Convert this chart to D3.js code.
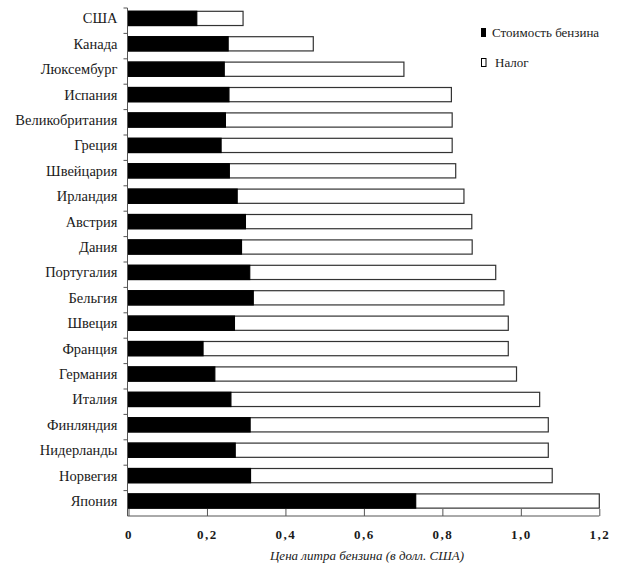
<!DOCTYPE html>
<html>
<head>
<meta charset="utf-8">
<script src="https://cdn.jsdelivr.net/npm/d3@7"></script>
</head>
<body style="margin:0">
<script>
// Страны сверху вниз
const countries = ["США", "Канада", "Люксембург", "Испания", "Великобритания", "Греция",
  "Швейцария", "Ирландия", "Австрия", "Дания", "Португалия", "Бельгия", "Швеция",
  "Франция", "Германия", "Италия", "Финляндия", "Нидерланды", "Норвегия", "Япония"];

// Стоимость бензина (долл. за литр)
const fuelCost = [0.174, 0.254, 0.244, 0.256, 0.247, 0.236, 0.257, 0.277, 0.298, 0.288,
  0.309, 0.318, 0.270, 0.190, 0.220, 0.261, 0.310, 0.272, 0.311, 0.732];

// Налог (долл. за литр)
const tax = [0.118, 0.217, 0.458, 0.567, 0.578, 0.589, 0.577, 0.578, 0.577, 0.588,
  0.627, 0.639, 0.698, 0.778, 0.769, 0.787, 0.760, 0.798, 0.769, 0.468];

const xTicks = [0, 0.2, 0.4, 0.6, 0.8, 1.0, 1.2];
const legendLabels = ["Стоимость бензина", "Налог"];

const W = 621, H = 571;
const margin = { top: 8, left: 128.5, right: 22, bottom: 55 };

// шрифт задаём и атрибутом, и стилем
function serif(sel, size) {
  return sel.attr("font-family", "Liberation Serif")
    .style("font-family", '"Liberation Serif"')
    .style("font-size", size + "px")
    .attr("fill", "#1a1a1a");
}

const svg = d3.select("body").append("svg")
  .attr("width", W).attr("height", H);

const x = d3.scaleLinear().domain([0, 1.2]).range([margin.left, 599.3]);
const y = d3.scaleBand().domain(countries).range([margin.top, 516]);
const bw = y.bandwidth();

const data = countries.map((c, i) => ({ c: c, cost: fuelCost[i], tax: tax[i] }));

// Налог — белая часть (рисуем полную длину)
svg.append("g").selectAll("rect").data(data).enter()
  .append("rect")
  .attr("x", x(0))
  .attr("y", d => y(d.c) + bw * 0.13)
  .attr("width", d => x(d.cost + d.tax) - x(0))
  .attr("height", bw * 0.56)
  .attr("fill", "#fff")
  .attr("stroke", "#333")
  .attr("stroke-width", 1.2);

// Стоимость бензина — чёрная часть
svg.append("g").selectAll("rect").data(data).enter()
  .append("rect")
  .attr("x", x(0))
  .attr("y", d => y(d.c) + bw * 0.13)
  .attr("width", d => x(d.cost) - x(0))
  .attr("height", bw * 0.56)
  .attr("fill", "#000")
  .attr("stroke", "#000")
  .attr("stroke-width", 1.2);

// Ось Y
const yAxis = svg.append("g");
yAxis.append("line")
  .attr("x1", x(0) - 1).attr("x2", x(0) - 1)
  .attr("y1", margin.top).attr("y2", 516)
  .attr("stroke", "#555").attr("stroke-width", 1);
yAxis.selectAll("line.tick").data(countries).enter()
  .append("line")
  .attr("x1", x(0) - 5).attr("x2", x(0) - 1)
  .attr("y1", d => y(d)).attr("y2", d => y(d))
  .attr("stroke", "#555");
yAxis.selectAll("text").data(countries).enter()
  .append("text")
  .attr("x", 117.5)
  .attr("y", d => y(d) + bw * 0.41 + 5)
  .attr("text-anchor", "end")
  .call(serif, 14.5)
  .text(d => d);

// Ось X
const xAxis = d3.axisBottom(x)
  .tickValues(xTicks)
  .tickSize(-7)
  .tickPadding(14)
  .tickFormat(d => d === 0 ? "0" : d3.format(".1f")(d).replace(".", ","));

const gx = svg.append("g")
  .attr("transform", "translate(0,516)")
  .call(xAxis)
  .attr("font-family", "Liberation Serif");
gx.select(".domain").attr("stroke", "#555").attr("d", `M${x(0) - 1},0H${x(1.2)}`);
gx.selectAll(".tick line").attr("stroke", "#555");
gx.selectAll(".tick text")
  .call(serif, 13)
  .style("font-weight", "bold")
  .style("letter-spacing", "1.5px");

svg.append("text")
  .attr("x", 367)
  .attr("y", 560)
  .attr("text-anchor", "middle")
  .call(serif, 13)
  .style("font-style", "italic")
  .text("Цена литра бензина (в долл. США)");

// Легенда
const legend = svg.append("g");
legend.append("rect")
  .attr("x", 481).attr("y", 28).attr("width", 5).attr("height", 9)
  .attr("fill", "#000");
legend.append("text")
  .attr("x", 492).attr("y", 37)
  .call(serif, 13)
  .text(legendLabels[0]);
legend.append("rect")
  .attr("x", 481.5).attr("y", 58.5).attr("width", 4.5).attr("height", 8)
  .attr("fill", "#fff").attr("stroke", "#000").attr("stroke-width", 1);
legend.append("text")
  .attr("x", 495).attr("y", 67)
  .call(serif, 13)
  .text(legendLabels[1]);
</script>
</body>
</html>
